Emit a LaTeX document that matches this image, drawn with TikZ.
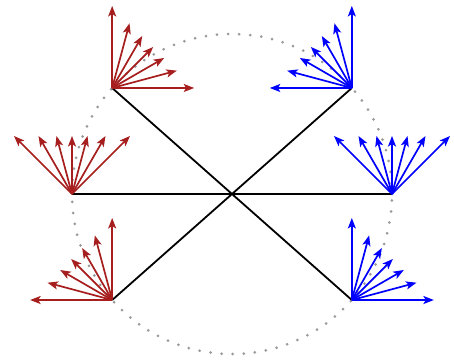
\documentclass[tikz,border=0pt]{standalone}
\usepackage{tikz}
\usetikzlibrary{arrows.meta}
\definecolor{vec_red}{HTML}{A61E1E}
\definecolor{vec_blue}{HTML}{0000FF}
\definecolor{circ_gray}{HTML}{9A9A9A}

\begin{document}
\begin{tikzpicture}[
    x=1pt, y=1pt,
    rimcircle/.style={draw=circ_gray, line width=3pt, line cap=round,
        dash pattern=on 0pt off 11.1pt},
    chord/.style={draw=black, line width=1.8pt},
    vec/.style={line width=1.7pt, -{Stealth[length=10.5pt, width=8pt, inset=2.5pt]}}
]
\useasboundingbox (-232,-168) rectangle (222,194);

% ----------------------------------------------------------
% Kreis (gepunktet) und Punkte auf dem Rand
% ----------------------------------------------------------
\draw[rimcircle] (0,0) circle (160);

\coordinate (tl) at (138.5:160);
\coordinate (tr) at (41.5:160);
\coordinate (ml) at (180:160);
\coordinate (mr) at (0:160);
\coordinate (bl) at (221.5:160);
\coordinate (br) at (318.5:160);

% Sehnen durch den Mittelpunkt
\draw[chord] (tl) -- (br);
\draw[chord] (tr) -- (bl);
\draw[chord] (ml) -- (mr);

% ----------------------------------------------------------
% Vektorfaecher: Spitzen auf einer Geraden im Abstand 58
% ----------------------------------------------------------
\foreach \pt/\c/\col in {tl/45/vec_red, ml/90/vec_red, bl/135/vec_red,
                         tr/135/vec_blue, mr/90/vec_blue, br/45/vec_blue} {
    \foreach \a in {-45,-30,...,45} {
        \draw[vec, \col] (\pt) -- ++({\c+\a}:{58/cos(\a)});
    }
}

\end{tikzpicture}
\end{document}
